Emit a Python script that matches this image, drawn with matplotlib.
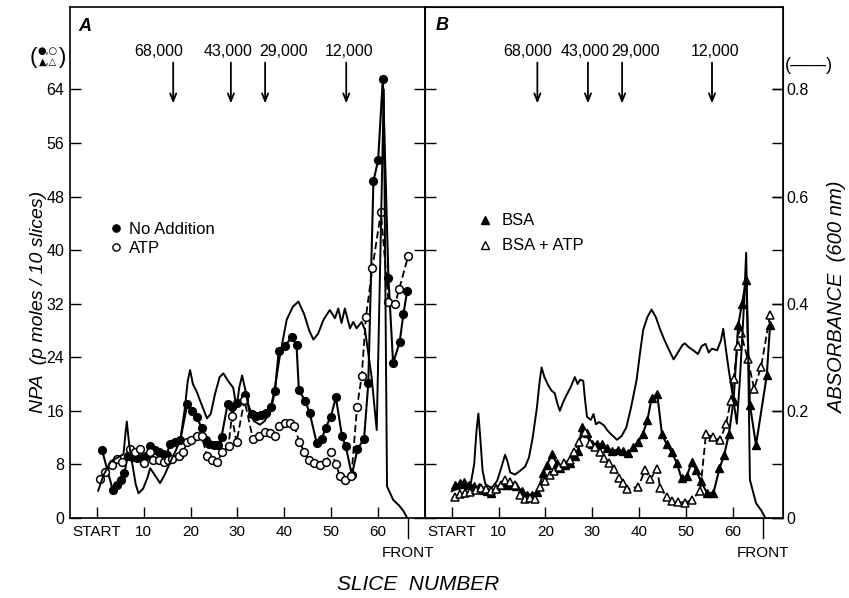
import numpy as np
import matplotlib.pyplot as plt
from matplotlib.lines import Line2D

plt.rcParams['font.family'] = ['Liberation Sans', 'DejaVu Sans']

# painel A: sem adicao (circulos cheios) e ATP (circulos abertos), NPA em pmol / 10 fatias
a_none_slice = [1.1, 3.4, 4.4, 5.2, 5.9, 6.6, 7.6, 8.6, 9.6, 10.5, 11.4, 12.4, 13.2, 14.1, 14.9,
                15.6, 16.7, 17.8, 19.3, 20.3, 21.3, 22.4, 23.2, 24.0, 25.0, 25.9, 26.6, 27.9, 28.8,
                29.9, 31.6, 33.0, 34.0, 35.0, 36.0, 37.2, 38.0, 38.8, 40.1, 41.6, 42.6, 43.1, 44.5,
                45.4, 46.9, 48.0, 48.8, 49.9, 51.0, 52.3, 53.1, 54.4, 55.6, 57.0, 57.9, 59.0, 60.0,
                61.0, 62.2, 63.2, 64.6, 65.4, 66.2]
a_none_npa = [10.2, 4.2, 4.9, 5.7, 6.7, 9.3, 9.1, 9.0, 9.0, 9.3, 10.7, 10.2, 9.8, 9.5, 9.4,
              11.1, 11.4, 11.6, 17.0, 16.0, 15.1, 13.4, 11.6, 11.0, 10.9, 10.9, 12.1, 17.0, 16.5,
              17.1, 18.3, 15.6, 15.3, 15.4, 15.7, 16.5, 18.9, 24.9, 25.7, 27.0, 25.8, 19.1, 17.4,
              15.7, 11.2, 11.8, 13.5, 15.1, 18.0, 12.2, 10.7, 6.4, 10.3, 11.8, 20.1, 50.3, 53.4,
              65.5, 35.8, 23.1, 26.3, 30.5, 33.9]

a_atp_slice = [0.6, 1.8, 3.2, 4.3, 5.4, 7.0, 8.2, 9.3, 10.0, 11.3, 12.0, 13.2, 14.3, 15.2, 16.1,
               17.5, 18.4, 19.3, 20.2, 21.3, 22.4, 23.5, 24.5, 25.6, 26.8, 28.1, 28.8, 29.8, 31.5,
               33.3, 34.7, 35.9, 37.0, 38.0, 38.9, 40.1, 41.2, 42.1, 43.2, 44.3, 45.3, 46.4, 47.6,
               48.8, 50.0, 51.0, 51.8, 53.0, 54.3, 55.5, 56.5, 57.4, 58.8, 60.6, 62.2, 63.6, 64.5,
               66.4]
a_atp_npa = [5.8, 6.8, 7.9, 8.8, 8.3, 10.3, 9.8, 10.3, 8.2, 9.9, 8.7, 8.7, 8.3, 8.6, 8.8,
             9.2, 9.9, 11.3, 11.7, 12.3, 12.2, 9.3, 8.7, 8.3, 9.8, 10.8, 15.2, 11.3, 17.6,
             11.8, 12.2, 12.8, 12.7, 12.3, 13.8, 14.2, 14.2, 13.8, 11.3, 9.9, 8.7, 8.2, 7.9,
             8.4, 9.9, 8.1, 6.3, 5.7, 6.3, 16.5, 21.2, 30.0, 37.4, 45.7, 32.3, 31.9, 34.2,
             39.1]

# painel A: absorbancia a 600 nm (linha continua)
a_abs_slice = [0.3, 1.5, 3.0, 4.5, 5.7, 6.1, 6.4, 6.9, 7.6, 8.3, 8.9, 9.9, 10.8, 11.4, 12.3,
               13.5, 14.5, 15.6, 16.8, 17.8, 18.8, 19.4, 19.9, 20.5, 21.3, 22.3, 23.5, 24.3, 25.2,
               26.2, 27.0, 28.0, 29.1, 29.8, 30.4, 31.0, 31.7, 32.5, 33.5, 34.8, 35.8, 37.0, 38.0,
               39.0, 40.5, 41.8, 43.0, 44.2, 45.3, 46.2, 47.2, 48.3, 49.0, 49.7, 50.8, 51.5, 52.2,
               52.9, 54.0, 54.7, 55.4, 56.5, 57.2, 58.6, 59.7, 60.5, 61.2, 61.6, 61.9, 63.2, 64.5,
               65.4, 66.2]
a_abs = [0.051, 0.081, 0.106, 0.113, 0.119, 0.156, 0.180, 0.138, 0.100, 0.063, 0.046, 0.055, 0.075,
         0.093, 0.081, 0.065, 0.081, 0.103, 0.125, 0.145, 0.206, 0.256, 0.276, 0.250, 0.236, 0.213,
         0.186, 0.194, 0.231, 0.263, 0.270, 0.256, 0.243, 0.206, 0.244, 0.266, 0.238, 0.200, 0.181,
         0.174, 0.181, 0.200, 0.244, 0.300, 0.370, 0.394, 0.404, 0.381, 0.350, 0.333, 0.344, 0.369,
         0.379, 0.388, 0.373, 0.391, 0.364, 0.391, 0.354, 0.366, 0.354, 0.366, 0.351, 0.264, 0.164,
         0.500, 0.800, 0.375, 0.059, 0.034, 0.023, 0.013, 0.0]

# painel B: BSA (triangulos cheios) e BSA + ATP (triangulos abertos)
b_bsa_slice = [0.7, 1.8, 2.7, 3.7, 4.8, 5.8, 6.8, 7.6, 8.5, 9.5, 10.5, 11.6, 12.7, 13.8, 15.0,
               16.1, 17.2, 18.3, 19.6, 20.3, 21.4, 22.4, 23.2, 24.2, 25.3, 26.3, 27.0, 27.8, 28.8,
               29.9, 31.0, 32.0, 33.2, 34.2, 35.5, 36.6, 37.7, 38.8, 39.8, 40.8, 41.8, 42.7, 43.9,
               44.9, 45.9, 47.0, 48.1, 49.1, 50.2, 51.3, 52.2, 53.2, 54.5, 55.9, 57.2, 58.2, 59.2,
               60.2, 61.2, 62.0, 62.9, 63.7, 65.0, 67.3, 68.0]
b_bsa_npa = [4.9, 5.2, 5.3, 5.0, 4.8, 4.6, 4.2, 4.0, 3.7, 4.5, 4.9, 5.0, 5.0, 4.8, 4.0,
             3.5, 3.5, 3.9, 6.7, 7.9, 9.5, 8.2, 7.5, 7.9, 8.2, 9.3, 10.0, 13.6, 12.7,
             11.1, 11.0, 11.0, 10.5, 10.0, 10.2, 10.0, 9.7, 10.6, 11.3, 12.5, 14.6, 17.9, 18.5,
             12.6, 11.0, 9.8, 8.2, 5.9, 6.3, 8.3, 7.2, 5.5, 3.8, 3.7, 7.4, 9.4, 12.5,
             17.5, 28.8, 32.0, 35.5, 16.9, 10.9, 21.3, 28.8]

b_atp_slice = [0.7, 1.8, 2.9, 4.0, 5.1, 6.3, 7.3, 8.4, 9.5, 10.5, 11.4, 12.5, 13.5, 14.6, 15.7,
               16.8, 17.8, 18.9, 19.9, 20.9, 21.9, 22.9, 24.0, 25.3, 26.2, 27.1, 28.5, 29.6, 30.6,
               31.6, 32.6, 33.7, 34.7, 35.8, 36.6, 37.4, 39.9, 41.3, 42.4, 43.9, 44.5, 45.9, 47.0,
               48.4, 49.8, 51.3, 53.1, 54.3, 55.8, 57.3, 58.6, 59.6, 60.2, 61.1, 61.8, 63.2, 64.6,
               66.1, 68.0]
b_atp_npa = [3.2, 3.6, 3.8, 3.9, 4.2, 4.5, 4.3, 4.0, 4.3, 5.0, 5.7, 5.3, 5.0, 3.4, 2.9,
             3.0, 2.9, 4.7, 5.5, 6.4, 7.0, 7.6, 8.2, 8.7, 9.8, 11.4, 12.9, 11.2, 10.6,
             9.8, 9.0, 8.2, 7.3, 6.0, 5.2, 4.3, 4.7, 7.2, 5.8, 7.3, 4.5, 3.2, 2.5,
             2.4, 2.3, 2.7, 4.1, 12.5, 12.1, 11.6, 14.0, 17.5, 20.8, 25.7, 27.6, 23.8, 19.3,
             22.6, 30.3]

# painel B: absorbancia
b_abs_slice = [0.0, 1.0, 2.5, 3.9, 4.8, 5.3, 5.7, 6.1, 6.6, 7.2, 8.5, 9.7, 10.6, 11.4, 11.9,
               12.5, 13.5, 14.6, 15.7, 16.5, 17.3, 18.2, 18.8, 19.2, 19.8, 20.6, 21.3, 22.0, 22.6,
               23.1, 23.8, 24.5, 25.4, 26.3, 26.9, 27.4, 28.1, 28.5, 28.9, 29.7, 30.3, 30.8, 31.5,
               32.5, 33.3, 34.2, 35.3, 36.3, 37.3, 38.3, 39.5, 40.2, 40.9, 41.8, 42.7, 43.6, 44.6,
               45.5, 46.3, 47.4, 48.4, 49.3, 49.8, 50.6, 51.6, 52.6, 53.4, 54.2, 54.9, 55.6, 56.7,
               57.5, 58.0, 58.5, 59.2, 60.1, 60.9, 61.5, 62.3, 62.9, 63.3, 63.7, 65.0, 66.2, 67.0]
b_abs = [0.050, 0.054, 0.056, 0.056, 0.100, 0.163, 0.195, 0.150, 0.088, 0.063, 0.056, 0.069, 0.094,
         0.118, 0.106, 0.085, 0.081, 0.088, 0.096, 0.113, 0.150, 0.206, 0.256, 0.281, 0.263, 0.248,
         0.238, 0.233, 0.213, 0.200, 0.216, 0.229, 0.244, 0.263, 0.250, 0.258, 0.256, 0.219, 0.189,
         0.183, 0.194, 0.175, 0.179, 0.173, 0.163, 0.155, 0.146, 0.153, 0.169, 0.206, 0.258, 0.306,
         0.351, 0.375, 0.389, 0.375, 0.350, 0.331, 0.316, 0.296, 0.310, 0.323, 0.326, 0.319, 0.313,
         0.306, 0.321, 0.325, 0.309, 0.316, 0.313, 0.331, 0.353, 0.319, 0.275, 0.225, 0.176, 0.250,
         0.375, 0.495, 0.313, 0.071, 0.028, 0.013, 0.0]

# marcadores de peso molecular (setas)
marker_weights = ['68,000', '43,000', '29,000', '12,000']
a_marker_slice = [16.3, 28.6, 35.9, 53.2]
b_marker_slice = [18.3, 29.1, 36.4, 55.6]
a_label_shift = [-3.2, -0.6, 3.9, 0.6]
b_label_shift = [-2.1, -0.7, 2.9, 0.7]

front_slice = [66.3, 66.6]
slice_ticks = [0, 10, 20, 30, 40, 50, 60]
slice_ticklabels = ['START', '10', '20', '30', '40', '50', '60']
npa_ticks = [0, 8, 16, 24, 32, 40, 48, 56, 64]
abs_ticks = [0, 0.2, 0.4, 0.6, 0.8]
abs_ticklabels = ['0', '0.2', '0.4', '0.6', '0.8']

ymax = 76.3
fs = 11.5

fig = plt.figure(figsize=(8.49, 5.98), dpi=100)
axA = fig.add_axes([0.0825, 0.1338, 0.4181, 0.8545])
axB = fig.add_axes([0.5006, 0.1338, 0.4213, 0.8545], sharey=axA)
axA2 = axA.twinx()
axB2 = axB.twinx()

closed = dict(color='black', lw=1.5, ms=5.6, mec='black', mfc='black', mew=1)
opened = dict(color='black', lw=1.3, ls=(0, (4, 2)), ms=5.6, mec='black', mfc='white', mew=1.1)

axA.plot(a_none_slice, a_none_npa, marker='o', **closed, zorder=4)
axA.plot(a_atp_slice, a_atp_npa, marker='o', **opened, zorder=5)
axA2.plot(a_abs_slice, a_abs, color='black', lw=1.4)

axB.plot(b_bsa_slice, b_bsa_npa, marker='^', **closed, zorder=4)
axB.plot(b_atp_slice, b_atp_npa, marker='^', **opened, zorder=5)
axB2.plot(b_abs_slice, b_abs, color='black', lw=1.4)

for ax, xmax, fr in ((axA, 70.0, front_slice[0]), (axB, 70.7, front_slice[1])):
    ax.set_xlim(-5.7, xmax)
    ax.set_ylim(0, ymax)
    ax.set_xticks(slice_ticks)
    ax.set_xticklabels(slice_ticklabels)
    ax.set_yticks(npa_ticks)
    ax.tick_params(axis='x', direction='in', length=8, width=1, pad=5, labelsize=11)
    ax.tick_params(axis='y', direction='in', length=8, width=1, left=True, right=True,
                   labelsize=fs, pad=4)
    for sp in ax.spines.values():
        sp.set_linewidth(1.2)
    trans = ax.get_xaxis_transform()
    ax.plot([fr, fr], [0, -0.04], transform=trans, clip_on=False, color='black', lw=1)
    ax.text(fr, -0.068, 'FRONT', transform=trans, ha='center', va='center', fontsize=11)

axB.tick_params(axis='y', labelleft=False)

for ax2 in (axA2, axB2):
    ax2.set_ylim(0, ymax / 80)
axA2.axis('off')
axB2.set_yticks(abs_ticks)
axB2.set_yticklabels(abs_ticklabels)
axB2.tick_params(axis='y', direction='in', length=8, width=1, labelsize=fs, pad=3)

# setas dos marcadores
for ax, xs, shifts in ((axA, a_marker_slice, a_label_shift), (axB, b_marker_slice, b_label_shift)):
    for w, s, d in zip(marker_weights, xs, shifts):
        ax.annotate('', xy=(s, 61.9), xytext=(s, 68.0),
                    arrowprops=dict(arrowstyle='->,head_length=0.55,head_width=0.22',
                                    lw=1.3, color='black', shrinkA=0, shrinkB=0))
        ax.text(s + d, 69.6, w, ha='center', va='center', fontsize=fs)

# legendas
hA = [Line2D([], [], ls='none', marker='o', ms=5.2, mfc='black', mec='black'),
      Line2D([], [], ls='none', marker='o', ms=5.2, mfc='white', mec='black')]
axA.legend(hA, ['No Addition', 'ATP'], loc='center left', bbox_to_anchor=(0.111, 0.546),
           frameon=False, handlelength=0.8, handletextpad=0.4, labelspacing=0.25,
           borderpad=0, borderaxespad=0, fontsize=12)
hB = [Line2D([], [], ls='none', marker='^', ms=5.2, mfc='black', mec='black'),
      Line2D([], [], ls='none', marker='^', ms=5.2, mfc='white', mec='black')]
axB.legend(hB, ['BSA', 'BSA + ATP'], loc='center left', bbox_to_anchor=(0.149, 0.557),
           frameon=False, handlelength=0.8, handletextpad=0.6, labelspacing=0.6,
           borderpad=0, borderaxespad=0, fontsize=12)

axA.text(0.042, 0.961, 'A', transform=axA.transAxes, style='italic', fontweight='bold',
         fontsize=13, ha='center', va='center')
axB.text(0.047, 0.963, 'B', transform=axB.transAxes, style='italic', fontweight='bold',
         fontsize=13, ha='center', va='center')

fig.text(39 / 849, 1 - 302 / 598, 'NPA  (p moles / 10 slices)', rotation=90, style='italic',
         ha='center', va='center', fontsize=14)
fig.text(838 / 849, 1 - 297 / 598, 'ABSORBANCE  (600 nm)', rotation=90, style='italic',
         ha='center', va='center', fontsize=14.5)
fig.text(418 / 849, 1 - 585 / 598, 'SLICE  NUMBER', style='italic', ha='center', va='center',
         fontsize=15)

# simbolos do eixo esquerdo e da linha de absorbancia
fig.text(33 / 849, 1 - 57 / 598, '(', ha='center', va='center', fontsize=16)
fig.text(63 / 849, 1 - 57 / 598, ')', ha='center', va='center', fontsize=16)
fig.text(48 / 849, 1 - 51 / 598, '●,○', ha='center', va='center', fontsize=7,
         family='DejaVu Sans')
fig.text(48 / 849, 1 - 63 / 598, '▲,△', ha='center', va='center', fontsize=7,
         family='DejaVu Sans')
fig.text(809 / 849, 1 - 66 / 598, '(——)', ha='center', va='center', fontsize=13)

fig.savefig('out.png', dpi=100)
